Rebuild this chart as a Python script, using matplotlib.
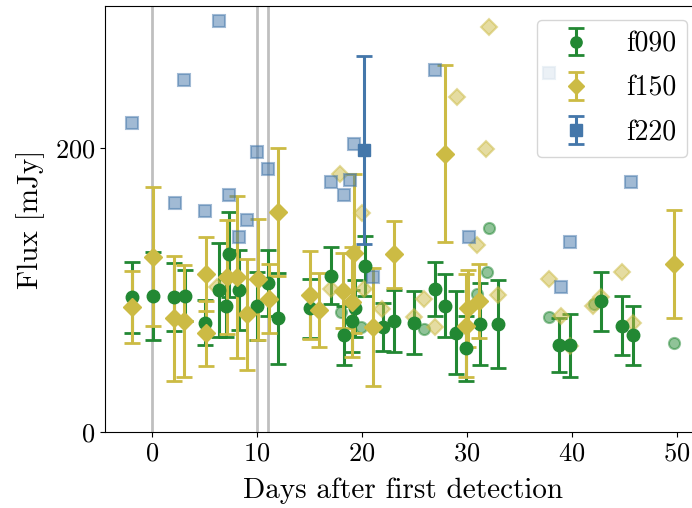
import matplotlib
matplotlib.use("Agg")
import matplotlib.pyplot as plt
import numpy as np

plt.rcParams['font.family'] = 'cmr10'
plt.rcParams['mathtext.fontset'] = 'cm'
plt.rcParams['axes.formatter.use_mathtext'] = True

# detections with uncertainties: days, flux [mJy], 1-sigma error
f090_t = [-1.9, 0.1, 2.1, 3.1, 5.0, 6.4, 7.0, 7.3, 8.3, 10.0, 11.0, 12.0, 15.0, 17.0,
          18.3, 19.0, 19.3, 20.3, 22.0, 23.0, 24.9, 26.9, 27.9, 28.9, 29.9, 31.2,
          32.9, 38.8, 39.8, 42.8, 44.8, 45.8]
f090_flux = [95, 96, 95, 96, 77, 100, 89, 125, 100, 89, 105, 80, 87, 110,
             68, 78, 87, 117, 74, 78, 77, 101, 89, 70, 59, 76,
             76, 61, 61, 92, 75, 68]
f090_err = [25, 31, 24, 18, 16, 33, 22, 30, 28, 24, 23, 32, 21, 20,
            21, 22, 20, 21, 17, 22, 22, 19, 22, 29, 23, 29,
            31, 19, 22, 21, 21, 21]

f150_t = [-1.9, 0.1, 2.1, 3.05, 5.1, 5.1, 7.1, 8.1, 9.0, 10.1, 11.1, 12.0, 15.0, 15.9,
          18.2, 19.0, 19.2, 21.0, 23.0, 27.9, 29.9, 30.1, 31.1, 49.7]
f150_flux = [88, 123.5, 80, 78, 111, 69.5, 109, 109, 83, 107.5, 94, 155, 96.5, 86,
             99.5, 91.5, 126, 74, 125, 196, 75, 87, 92.5, 118]
f150_err = [25.5, 49, 44, 39.5, 26, 23, 40, 57, 39, 42.5, 24.5, 45, 31, 26,
            26.5, 39, 56, 41.5, 23.5, 62.5, 36, 27, 26, 38]

f220_t = [20.2]
f220_flux = [198.6]
f220_err = [66]

# low-significance points (no error bars)
f090_lo_t = [18.0, 19.9, 25.9, 30.9, 31.9, 32.1, 37.8, 42.1, 49.7]
f090_lo_flux = [84.7, 74, 72.4, 97.2, 112.7, 143.6, 81, 90, 62.7]

f150_lo_t = [6.2, 17.0, 17.9, 20.0, 20.2, 21.9, 24.9, 25.9, 26.9, 29.0, 30.9, 31.8,
             32.1, 32.9, 37.8, 38.9, 39.8, 42.0, 42.8, 44.8, 45.8]
f150_lo_flux = [102, 100.6, 182, 154.5, 100.5, 86.5, 81, 93.6, 74, 236, 131.7, 199,
                285, 96.5, 107.7, 81.7, 60.6, 88.7, 95, 112.7, 76.8]

f220_lo_t = [-1.9, 2.2, 3.0, 5.0, 6.4, 7.3, 8.3, 9.0, 10.0, 11.0, 17.0, 18.3, 18.9,
             19.2, 21.0, 26.9, 30.2, 37.8, 38.9, 39.8, 45.6]
f220_lo_flux = [217.6, 161, 248, 155.6, 289.4, 167, 137, 149, 197, 185, 176, 167, 177.5,
                203, 109, 255, 137, 253, 102, 134, 176]

# epochs marked with vertical lines
event_days = [0, 10, 11]

bands = [
    ('f090', '#228833', 'o', f090_t, f090_flux, f090_err, f090_lo_t, f090_lo_flux),
    ('f150', '#CCBB44', 'D', f150_t, f150_flux, f150_err, f150_lo_t, f150_lo_flux),
    ('f220', '#4477AA', 's', f220_t, f220_flux, f220_err, f220_lo_t, f220_lo_flux),
]

fig = plt.figure(figsize=(6.92, 5.08), dpi=100)
# axes runs a little past the right edge of the saved picture
ax = fig.add_axes([105 / 692, 76 / 508, 596 / 692, 426 / 508])

for d in event_days:
    ax.axvline(d, color='gray', alpha=0.5, lw=2, zorder=0)

for name, col, mk, t, f, e, lt, lf in bands:
    ax.errorbar(t, f, yerr=e, fmt=mk, color=col, ms=9, elinewidth=2.2,
                capsize=5.5, capthick=2, label=name)
    ax.plot(lt, lf, mk, color=col, alpha=0.5, ms=8, mew=1.5, ls='none')

ax.set_xlim(-4.48, 52.28)
ax.set_ylim(0, 300)
ax.set_yticks([0, 200])
ax.set_xticks([0, 10, 20, 30, 40, 50])
ax.tick_params(labelsize=19)
ax.set_xlabel('Days after first detection', fontsize=21, labelpad=9)
ax.set_ylabel('Flux [mJy]', fontsize=21, labelpad=7)
ax.legend(loc='upper right', fontsize=20, labelspacing=0.65, markerscale=0.9)

fig.savefig('out.png', dpi=100)
